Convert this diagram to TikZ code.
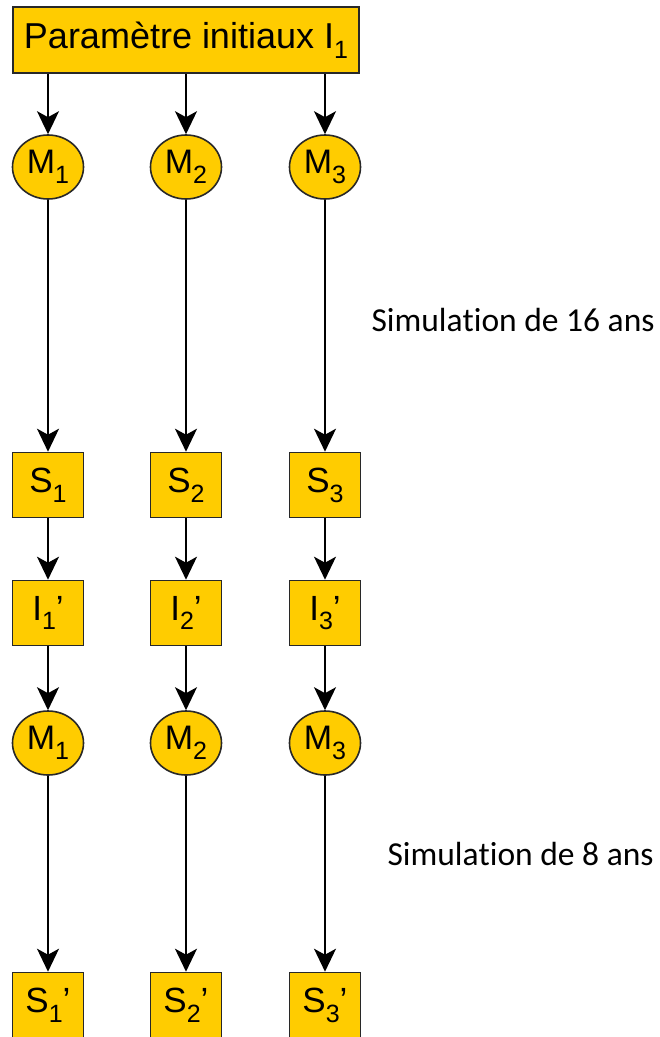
\documentclass[tikz,border=0pt]{standalone}
\usepackage{fontspec}
\setmainfont{Liberation Sans}
\newfontfamily\calib[Ligatures=NoCommon]{Carlito}
\usetikzlibrary{arrows.meta,shapes.geometric}
\definecolor{gold}{RGB}{255,204,0}
\definecolor{edge}{RGB}{40,40,40}
\newcommand{\mysub}[1]{\raisebox{-0.28em}{\fontsize{25}{27}\selectfont #1}}
\tikzset{
  box/.style={draw=edge, fill=gold, line width=1.6pt, minimum width=71pt, minimum height=65pt, inner sep=0pt, font=\fontsize{35}{40}\selectfont},
  circ/.style={draw=edge, fill=gold, line width=1.6pt, ellipse, minimum width=71pt, minimum height=64pt, inner sep=0pt, font=\fontsize{34}{38}\selectfont},
  arr/.style={-{Stealth[length=23pt,width=22pt,inset=6pt]}, line width=1.8pt, black},
  note/.style={font=\calib\fontsize{33.5}{38}\selectfont, anchor=west}
}
\begin{document}
\begin{tikzpicture}[x=1pt,y=-1pt]
\useasboundingbox (0,0) rectangle (660,1037);
\node[box, minimum width=346pt, minimum height=66pt, font=\fontsize{36}{40}\selectfont] (top) at (186,40) {Paramètre initiaux I\mysub{1}};
\foreach \i/\x in {1/48,2/186,3/325}{
  \node[circ] (ma\i) at (\x,167) {M\mysub{\i}};
  \node[box] (s\i) at (\x,485) {S\mysub{\i}};
  \node[box] (ip\i) at (\x,613) {I\mysub{\i}’};
  \node[circ] (mb\i) at (\x,743) {M\mysub{\i}};
  \node[box] (sp\i) at (\x,1005) {S\mysub{\i}’};
  \draw[arr] (top.south -| ma\i) -- (ma\i.north);
  \draw[arr] (ma\i) -- (s\i);
  \draw[arr] (s\i) -- (ip\i);
  \draw[arr] (ip\i) -- (mb\i);
  \draw[arr] (mb\i) -- (sp\i);
}
\node[note] (t16) at (368,320) {Simula\kern0pt tion de 16 ans};
\node[note] (t8) at (384,854) {Simula\kern0pt tion de 8 ans};
\end{tikzpicture}
\end{document}
